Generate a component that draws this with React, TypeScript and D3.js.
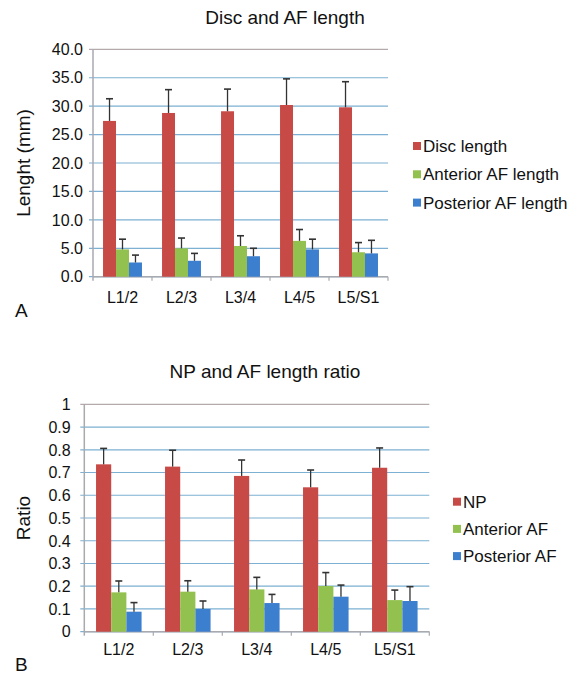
import React from "react"
import * as d3 from "d3"

// vertebral levels on the x axis
const levels = ["L1/2", "L2/3", "L3/4", "L4/5", "L5/S1"]

// panel A: lengths in mm (mean and upper SD)
const lengthSeries = ["Disc length", "Anterior AF length", "Posterior AF length"]
const discLength = [27.4, 28.8, 29.1, 30.2, 29.8]
const discLengthSd = [3.9, 4.1, 3.9, 4.6, 4.5]
const antAfLength = [4.8, 5.0, 5.4, 6.3, 4.3]
const antAfLengthSd = [1.8, 1.8, 1.8, 2.0, 1.7]
const postAfLength = [2.5, 2.8, 3.6, 4.8, 4.1]
const postAfLengthSd = [1.3, 1.3, 1.4, 1.8, 2.3]
const lengthTicks = [0, 5, 10, 15, 20, 25, 30, 35, 40]

// panel B: length ratios
const ratioSeries = ["NP", "Anterior AF", "Posterior AF"]
const npRatio = [0.736, 0.726, 0.685, 0.635, 0.721]
const npRatioSd = [0.07, 0.072, 0.07, 0.076, 0.087]
const antAfRatio = [0.173, 0.176, 0.186, 0.201, 0.139]
const antAfRatioSd = [0.05, 0.048, 0.053, 0.059, 0.044]
const postAfRatio = [0.088, 0.1, 0.126, 0.154, 0.135]
const postAfRatioSd = [0.04, 0.035, 0.038, 0.051, 0.063]
const ratioTicks = [0, 0.1, 0.2, 0.3, 0.4, 0.5, 0.6, 0.7, 0.8, 0.9, 1]

const colors = ["#c84a47", "#93c14f", "#3c7fcf"]
const font = "'Liberation Sans', Arial, Helvetica, sans-serif"

type PanelProps = {
  title: string
  yLabel: string
  letter: string
  names: string[]
  means: number[][]
  sds: number[][]
  ticks: number[]
  fmt: (v: number) => string
  left: number
  top: number
  width: number
  height: number
  tickGap: number
  titleX: number
  titleY: number
  legendX: number
  legendY: number
  legendStep: number
  labelY: number
  letterY: number
}

function Panel(p: PanelProps) {
  const x = d3.scaleBand().domain(levels).range([p.left, p.left + p.width])
  const y = d3.scaleLinear().domain([0, d3.max(p.ticks) as number]).range([p.top + p.height, p.top])
  const bw = x.bandwidth() * 0.22
  const x1 = d3.scaleBand().domain(p.names)
    .range([(x.bandwidth() - bw * 3) / 2, (x.bandwidth() + bw * 3) / 2])
  const base = y(0)
  const right = p.left + p.width

  return (
    <g fontFamily={font} fill="#111">
      <text x={p.titleX} y={p.titleY} fontSize={19} textAnchor="middle">{p.title}</text>

      {p.ticks.map((t, i) => (
        <g key={t}>
          <line x1={p.left - 4} x2={right} y1={y(t)} y2={y(t)}
            stroke={i === p.ticks.length - 1 ? "#b4aaaa" : "#7db0d2"} strokeWidth={1.2} />
          <text x={p.left - p.tickGap} y={y(t)} dy="0.36em" fontSize={16} textAnchor="end">{p.fmt(t)}</text>
        </g>
      ))}

      <line x1={p.left} x2={p.left} y1={p.top} y2={base + 4} stroke="#a9a9b0" strokeWidth={1.5} />
      <line x1={p.left} x2={right} y1={base} y2={base} stroke="#a9a9b0" strokeWidth={1.5} />
      {levels.map(l => (
        <line key={l} x1={(x(l) as number) + x.bandwidth()} x2={(x(l) as number) + x.bandwidth()}
          y1={base} y2={base + 4} stroke="#a9a9b0" strokeWidth={1.2} />
      ))}

      {p.names.map((n, si) => levels.map((l, i) => {
        const bx = (x(l) as number) + (x1(n) as number)
        const v = p.means[si][i]
        const e = v + p.sds[si][i]
        const cx = bx + bw / 2
        return (
          <g key={n + l}>
            <rect x={bx} y={y(v)} width={bw} height={base - y(v)} fill={colors[si]} />
            <line x1={cx} x2={cx} y1={y(v)} y2={y(e)} stroke="#333" strokeWidth={1.3} />
            <line x1={cx - 3.5} x2={cx + 3.5} y1={y(e)} y2={y(e)} stroke="#333" strokeWidth={1.6} />
          </g>
        )
      }))}

      {levels.map(l => (
        <text key={l} x={(x(l) as number) + x.bandwidth() / 2} y={p.labelY} fontSize={16} textAnchor="middle">{l}</text>
      ))}

      <text transform={`translate(23,${p.top + p.height / 2}) rotate(-90)`} dy="0.35em"
        fontSize={19} textAnchor="middle">{p.yLabel}</text>

      {p.names.map((n, i) => (
        <g key={n} transform={`translate(${p.legendX},${p.legendY + i * p.legendStep})`}>
          <rect x={0} y={-4} width={8} height={8} fill={colors[i]} />
          <text x={10} y={0} dy="0.36em" fontSize={17}>{n}</text>
        </g>
      ))}

      <text x={15} y={p.letterY} fontSize={19}>{p.letter}</text>
    </g>
  )
}

export default function App() {
  return (
    <div style={{ position: "absolute", left: 0, top: 0 }}>
      <svg width={581} height={674} style={{ display: "block", background: "#fff" }}>
        <Panel title="Disc and AF length" yLabel="Lenght (mm)" letter="A"
          names={lengthSeries}
          means={[discLength, antAfLength, postAfLength]}
          sds={[discLengthSd, antAfLengthSd, postAfLengthSd]}
          ticks={lengthTicks} fmt={d3.format(".1f")}
          left={93} top={49.3} width={295} height={227.4} tickGap={10}
          titleX={285} titleY={24} legendX={413} legendY={146} legendStep={28.3}
          labelY={303} letterY={317} />
        <Panel title="NP and AF length ratio" yLabel="Ratio" letter="B"
          names={ratioSeries}
          means={[npRatio, antAfRatio, postAfRatio]}
          sds={[npRatioSd, antAfRatioSd, postAfRatioSd]}
          ticks={ratioTicks} fmt={d3.format(".1~f")}
          left={84.3} top={404.3} width={345} height={227.4} tickGap={13.6}
          titleX={265} titleY={378} legendX={453} legendY={501.7} legendStep={27.2}
          labelY={655} letterY={671} />
      </svg>
    </div>
  )
}
